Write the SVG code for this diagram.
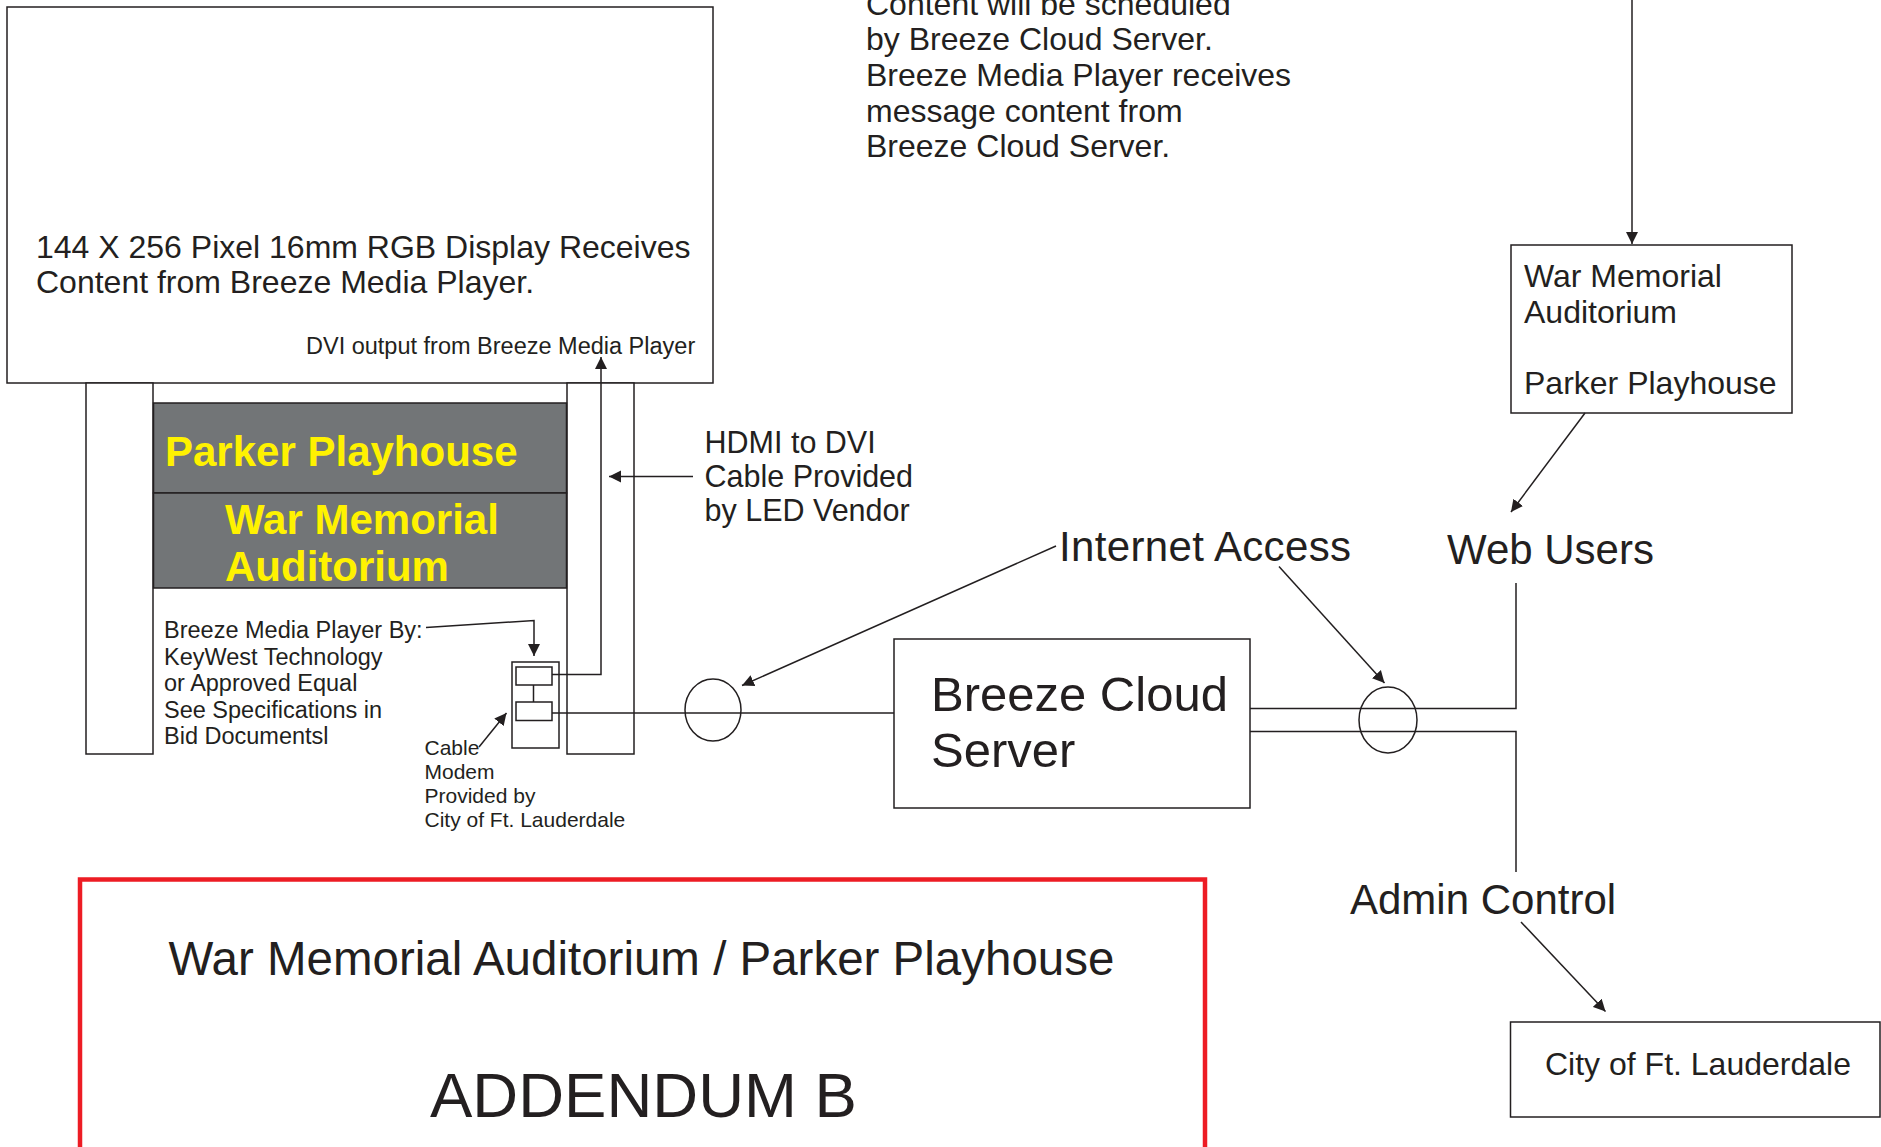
<svg xmlns="http://www.w3.org/2000/svg" width="1881" height="1147" viewBox="0 0 1881 1147">
<style>
text{font-family:"Liberation Sans",Arial,sans-serif;fill:#231f20}
.ln{fill:none;stroke:#231f20;stroke-width:1.5}
.box{fill:#fff;stroke:#231f20;stroke-width:1.5}
.arr{fill:none;stroke:#231f20;stroke-width:1.5;marker-end:url(#ah)}
.yel{fill:#fff200;font-weight:bold;font-size:42px}
.s23{font-size:23.5px}
.s32{font-size:32px}
.s42{font-size:42px}
</style>
<defs>
<marker id="ah" markerUnits="userSpaceOnUse" markerWidth="13" markerHeight="13" viewBox="0 0 13 13" refX="12" refY="6.5" orient="auto">
<path d="M0,0.5 L12,6.5 L0,12.5 z" fill="#231f20"/>
</marker>
</defs>
<rect width="1881" height="1147" fill="#fff"/>

<g id="display">
<rect class="box" x="7" y="7" width="706" height="376"/>
<text class="s32"><tspan x="36" y="258">144 X 256 Pixel 16mm RGB Display Receives</tspan><tspan x="36" y="293">Content from Breeze Media Player.</tspan></text>
<text class="s23" x="306" y="354">DVI output from Breeze Media Player</text>
</g>

<g id="structure">
<rect class="box" x="86" y="383" width="67" height="371"/>
<rect class="box" x="567" y="383" width="67" height="371"/>
<rect x="153.5" y="403" width="413" height="90" fill="#727577" stroke="#231f20" stroke-width="1.5"/>
<rect x="153.5" y="493" width="413" height="95" fill="#727577" stroke="#231f20" stroke-width="1.5"/>
<text class="yel" x="165" y="466">Parker Playhouse</text>
<text class="yel"><tspan x="225" y="534">War Memorial</tspan><tspan x="225" y="581">Auditorium</tspan></text>
<text class="s23"><tspan x="164" y="638">Breeze Media Player By:</tspan><tspan x="164" y="664.5">KeyWest Technology</tspan><tspan x="164" y="691">or Approved Equal</tspan><tspan x="164" y="717.5">See Specifications in</tspan><tspan x="164" y="744">Bid Documentsl</tspan></text>
</g>

<g id="modem">
<rect class="box" x="512" y="662" width="47" height="86"/>
<rect class="box" x="516" y="667" width="36" height="18"/>
<rect class="box" x="516" y="702" width="36" height="18.5"/>
<line class="ln" x1="533.5" y1="685" x2="533.5" y2="702"/>
<text style="font-size:21px"><tspan x="424.5" y="755">Cable</tspan><tspan x="424.5" y="779">Modem</tspan><tspan x="424.5" y="803">Provided by</tspan><tspan x="424.5" y="827">City of Ft. Lauderdale</tspan></text>
</g>

<g id="hdmi-label">
<text style="font-size:30.5px"><tspan x="704.5" y="453">HDMI to DVI</tspan><tspan x="704.5" y="486.5">Cable Provided</tspan><tspan x="704.5" y="520.5">by LED Vendor</tspan></text>
</g>

<g id="schedule-note">
<text class="s32"><tspan x="866" y="14.5">Content will be scheduled</tspan><tspan x="866" y="50">by Breeze Cloud Server.</tspan><tspan x="866" y="86">Breeze Media Player receives</tspan><tspan x="866" y="121.5">message content from</tspan><tspan x="866" y="157">Breeze Cloud Server.</tspan></text>
</g>

<g id="cloud-server">
<rect class="box" x="894" y="639" width="356" height="169"/>
<text style="font-size:49px"><tspan x="931" y="711">Breeze Cloud</tspan><tspan x="931" y="767">Server</tspan></text>
</g>

<g id="venue-box">
<rect class="box" x="1511" y="245" width="281" height="168"/>
<text class="s32"><tspan x="1524" y="287">War Memorial</tspan><tspan x="1524" y="322.5">Auditorium</tspan><tspan x="1524" y="393.5">Parker Playhouse</tspan></text>
</g>

<g id="city-box">
<rect class="box" x="1510.5" y="1022" width="369.5" height="95"/>
<text class="s32" x="1545" y="1075">City of Ft. Lauderdale</text>
</g>

<g id="labels">
<text class="s42" x="1059" y="561" textLength="292">Internet Access</text>
<text class="s42" x="1447" y="564">Web Users</text>
<text class="s42" x="1350" y="914">Admin Control</text>
</g>

<g id="connectors">
<path class="arr" d="M552,674.5 H601 V357"/>
<path class="arr" d="M693,476.5 H609"/>
<path class="arr" d="M426,627.5 L534,620.5 V656"/>
<path class="arr" d="M479,747 L506.5,713"/>
<line class="ln" x1="552" y1="713" x2="894" y2="713"/>
<ellipse class="ln" cx="713" cy="710" rx="28" ry="31"/>
<path class="arr" d="M1056,546 L742,685.5"/>
<path class="arr" d="M1279,566.5 L1384.5,683"/>
<path class="ln" d="M1250,708.5 H1516 V583"/>
<path class="ln" d="M1250,731.5 H1516 V872"/>
<ellipse class="ln" cx="1388" cy="720" rx="29" ry="33"/>
<path class="arr" d="M1632,0 V244"/>
<path class="arr" d="M1585,413 L1511,512"/>
<path class="arr" d="M1521,922 L1605.5,1011.5"/>
</g>

<g id="title-box">
<rect x="80" y="879.5" width="1125" height="300" fill="none" stroke="#ed1c24" stroke-width="4.5"/>
<text style="font-size:47.5px" x="168.5" y="974.5">War Memorial Auditorium / Parker Playhouse</text>
<text style="font-size:63.5px" x="430" y="1117">ADDENDUM B</text>
</g>
</svg>
